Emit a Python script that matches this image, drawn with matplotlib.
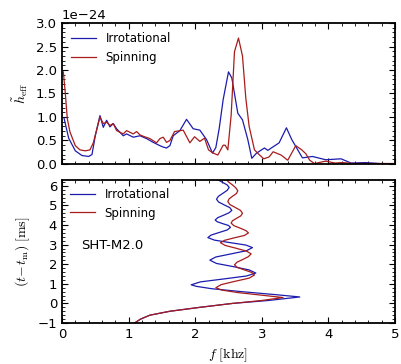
import matplotlib
matplotlib.use("Agg")
import matplotlib.pyplot as plt
from matplotlib.ticker import MultipleLocator

plt.rcParams['mathtext.fontset'] = 'cm'
plt.rcParams['font.family'] = ['DejaVu Sans']
plt.rcParams['font.size'] = 10

# ---- top panel: effective strain spectrum (units of 1e-24) ----
f_irr = [0.03, 0.1, 0.2, 0.3, 0.4, 0.45, 0.5, 0.57, 0.62, 0.67, 0.72, 0.77, 0.82, 0.92, 0.97,
         1.07, 1.17, 1.27, 1.37, 1.47, 1.52, 1.57, 1.62, 1.67, 1.77, 1.87, 1.97, 2.07, 2.17,
         2.26, 2.31, 2.36, 2.42, 2.5, 2.55, 2.64, 2.71, 2.79, 2.85, 2.92, 3.04, 3.09, 3.26,
         3.37, 3.45, 3.61, 3.76, 3.96, 4.19, 4.34, 4.56, 4.76, 5.0]
h_irr = [0.98, 0.55, 0.28, 0.18, 0.16, 0.2, 0.6, 1.03, 0.78, 0.93, 0.79, 0.86, 0.75, 0.60, 0.64,
         0.57, 0.60, 0.54, 0.46, 0.39, 0.36, 0.34, 0.39, 0.60, 0.71, 0.95, 0.75, 0.72, 0.52,
         0.23, 0.35, 0.75, 1.37, 1.96, 1.83, 1.08, 0.94, 0.52, 0.12, 0.23, 0.34, 0.29, 0.45,
         0.77, 0.52, 0.13, 0.16, 0.09, 0.11, 0.02, 0.03, 0.01, 0.0]

f_spin = [0.02, 0.05, 0.08, 0.12, 0.2, 0.27, 0.35, 0.42, 0.47, 0.57, 0.62, 0.67, 0.72, 0.77, 0.82,
          0.92, 0.97, 1.07, 1.12, 1.17, 1.22, 1.32, 1.42, 1.47, 1.52, 1.57, 1.62, 1.69, 1.82,
          1.92, 1.99, 2.07, 2.14, 2.2, 2.26, 2.34, 2.42, 2.45, 2.49, 2.54, 2.59, 2.65, 2.71,
          2.76, 2.81, 2.89, 2.96, 3.03, 3.11, 3.17, 3.29, 3.39, 3.51, 3.6, 3.66, 3.72, 3.79,
          3.96, 4.1, 4.2, 4.4, 5.0]
h_spin = [1.96, 1.5, 0.96, 0.68, 0.39, 0.3, 0.28, 0.3, 0.45, 1.0, 0.86, 0.89, 0.82, 0.86, 0.71,
          0.64, 0.71, 0.64, 0.69, 0.62, 0.59, 0.54, 0.45, 0.54, 0.57, 0.46, 0.5, 0.69, 0.72,
          0.45, 0.58, 0.48, 0.55, 0.30, 0.24, 0.19, 0.40, 0.40, 0.30, 1.04, 2.39, 2.68, 2.30,
          1.4, 0.8, 0.3, 0.2, 0.11, 0.15, 0.26, 0.19, 0.08, 0.39, 0.3, 0.22, 0.08, 0.01,
          0.06, 0.02, 0.03, 0.01, 0.01]

# ---- bottom panel: instantaneous frequency vs time ----
t_irr = [-1.0, -0.8, -0.6, -0.4, -0.2, 0.0, 0.15, 0.33, 0.45, 0.6, 0.75, 0.87, 0.95,
         1.1, 1.25, 1.4, 1.55, 1.71, 1.88, 2.04, 2.21, 2.37, 2.53, 2.69, 2.85,
         2.98, 3.1, 3.23, 3.36, 3.49, 3.62, 3.75, 3.88, 3.98, 4.07, 4.17, 4.26,
         4.38, 4.5, 4.63, 4.75, 4.89, 5.03, 5.18, 5.32, 5.47, 5.62, 5.77, 5.92,
         6.05, 6.2, 6.35]
fr_irr = [1.09, 1.18, 1.32, 1.62, 2.07, 2.56, 3.1, 3.57, 3.2, 2.7, 2.25, 2.02, 1.94,
          2.08, 2.43, 2.77, 2.91, 2.81, 2.57, 2.32, 2.22, 2.31, 2.54, 2.77, 2.86,
          2.76, 2.53, 2.29, 2.19, 2.24, 2.36, 2.48, 2.53, 2.50, 2.415, 2.33, 2.30,
          2.34, 2.425, 2.51, 2.55, 2.52, 2.435, 2.35, 2.32, 2.35, 2.415, 2.48, 2.51,
          2.48, 2.40, 2.32]

t_spin = [-1.0, -0.8, -0.6, -0.4, -0.2, 0.0, 0.15, 0.3, 0.42, 0.55, 0.68, 0.8,
          0.96, 1.13, 1.29, 1.45, 1.58, 1.71, 1.84, 1.97, 2.11, 2.25, 2.39, 2.53,
          2.67, 2.82, 2.96, 3.1, 3.22, 3.35, 3.47, 3.6, 3.72, 3.85, 3.97, 4.1,
          4.22, 4.35, 4.47, 4.6, 4.75, 4.9, 5.05, 5.2, 5.34, 5.48, 5.61, 5.75,
          5.9, 6.05, 6.2, 6.35]
fr_spin = [1.09, 1.18, 1.32, 1.62, 2.07, 2.56, 3.0, 3.32, 3.0, 2.65, 2.40, 2.31,
           2.39, 2.60, 2.81, 2.89, 2.85, 2.74, 2.63, 2.59, 2.63, 2.72, 2.80, 2.84,
           2.77, 2.61, 2.45, 2.38, 2.44, 2.59, 2.74, 2.80, 2.76, 2.67, 2.58, 2.54,
           2.56, 2.625, 2.685, 2.71, 2.68, 2.60, 2.52, 2.49, 2.51, 2.565, 2.62, 2.64,
           2.61, 2.56, 2.50, 2.46]

labels = ["Irrotational", "Spinning"]
model_name = "SHT-M2.0"
c_irr = '#1c1cae'
c_spin = '#a81c1c'

fig = plt.figure(figsize=(4.01, 3.64), dpi=100)
ax1 = fig.add_axes([0.1546, 0.5495, 0.8304, 0.3873])
ax2 = fig.add_axes([0.1546, 0.1126, 0.8304, 0.3929])

ax1.plot(f_irr, [v * 1e-24 for v in h_irr], color=c_irr, lw=0.9, label=labels[0])
ax1.plot(f_spin, [v * 1e-24 for v in h_spin], color=c_spin, lw=0.9, label=labels[1])
ax1.set_xlim(0, 5)
ax1.set_ylim(0, 3e-24)
ax1.set_ylabel(r'$\tilde{h}_{\rm eff}$', fontsize=10)
ax1.xaxis.set_major_locator(MultipleLocator(1))
ax1.xaxis.set_minor_locator(MultipleLocator(0.2))
ax1.yaxis.set_major_locator(MultipleLocator(0.5e-24))
ax1.yaxis.set_minor_locator(MultipleLocator(0.1e-24))
ax1.tick_params(labelbottom=False)
ax1.legend(loc='upper left', frameon=False, handlelength=2.1, fontsize=8.5,
           handletextpad=0.8, labelspacing=0.45, borderaxespad=0.4)

ax2.plot(fr_irr, t_irr, color=c_irr, lw=0.9, label=labels[0])
ax2.plot(fr_spin, t_spin, color=c_spin, lw=0.9, label=labels[1])
ax2.set_xlim(0, 5)
ax2.set_ylim(-1, 6.3)
ax2.set_xlabel(r'$f\ [\mathrm{khz}]$', fontsize=10)
ax2.set_ylabel(r'$(t\!-\!t_{\rm m})\ [\mathrm{ms}]$', fontsize=10)
ax2.xaxis.set_major_locator(MultipleLocator(1))
ax2.xaxis.set_minor_locator(MultipleLocator(0.2))
ax2.yaxis.set_major_locator(MultipleLocator(1))
ax2.yaxis.set_minor_locator(MultipleLocator(0.2))
ax2.legend(loc='upper left', frameon=False, handlelength=2.1, fontsize=8.5,
           handletextpad=0.8, labelspacing=0.45, borderaxespad=0.3)
ax2.text(0.28, 2.94, model_name, fontsize=9.5, va='center', ha='left')

for ax in (ax1, ax2):
    ax.tick_params(which='both', direction='in', top=True, right=True, labelsize=9.5)
    ax.tick_params(which='major', length=4.5, width=0.8)
    ax.tick_params(which='minor', length=2.2, width=0.6)
    for s in ax.spines.values():
        s.set_linewidth(1.3)
ax1.yaxis.get_offset_text().set_fontsize(9.5)

fig.savefig('out.png', dpi=100)
